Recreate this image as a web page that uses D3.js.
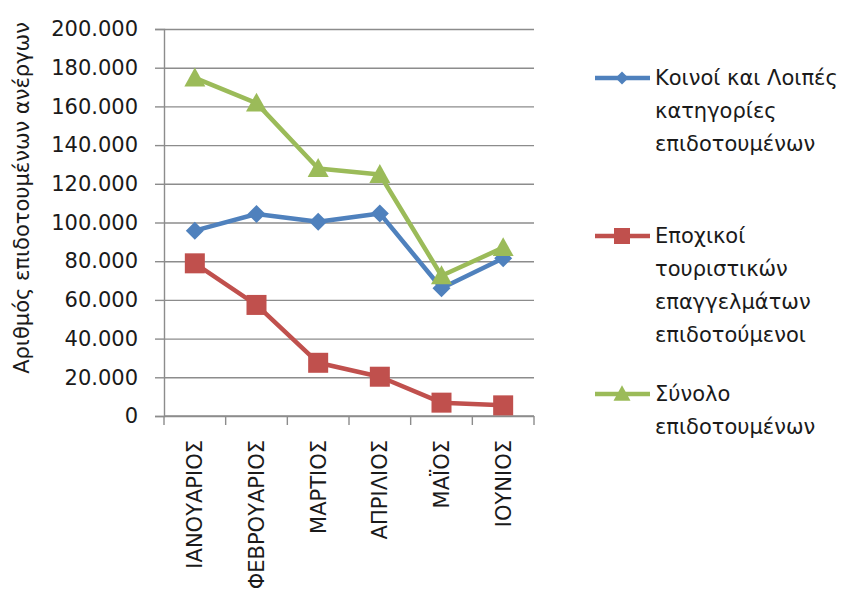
<!DOCTYPE html>
<html>
<head>
<meta charset="utf-8">
<script src="https://cdn.jsdelivr.net/npm/d3@7"></script>
<style>
  html, body { margin: 0; padding: 0; background: #fff; }
  svg { display: block; }
  text { font-family: "DejaVu Sans", sans-serif; fill: #1a1a1a; }
</style>
</head>
<body>
<svg id="chart" width="848" height="597"></svg>
<script>
// ---- data ----
const months = ["ΙΑΝΟΥΑΡΙΟΣ", "ΦΕΒΡΟΥΑΡΙΟΣ", "ΜΑΡΤΙΟΣ", "ΑΠΡΙΛΙΟΣ", "ΜΑΪΟΣ", "ΙΟΥΝΙΟΣ"];
const commonValues   = [95800, 104400, 100400, 104700, 66000, 81500];
const seasonalValues = [78900, 57400, 27500, 20300, 6900, 5500];
const totalValues    = [174700, 161700, 127900, 124800, 72500, 87000];
const yTicks = [0, 20000, 40000, 60000, 80000, 100000, 120000, 140000, 160000, 180000, 200000];
const yTitle = "Αριθμός επιδοτουμένων ανέργων";
const commonLabel   = ["Κοινοί και Λοιπές", "κατηγορίες", "επιδοτουμένων"];
const seasonalLabel = ["Εποχικοί", "τουριστικών", "επαγγελμάτων", "επιδοτούμενοι"];
const totalLabel    = ["Σύνολο", "επιδοτουμένων"];

const series = [
  { values: commonValues,   label: commonLabel,   color: "#4F81BD", shape: "diamond",  legendY: 78 },
  { values: seasonalValues, label: seasonalLabel, color: "#C0504D", shape: "square",   legendY: 236 },
  { values: totalValues,    label: totalLabel,    color: "#9BBB59", shape: "triangle", legendY: 394 }
];

// ---- layout ----
const svg = d3.select("#chart");
const plotLeft = 164, plotRight = 534, plotTop = 29, plotBottom = 416;
const x = d3.scaleBand().domain(months).range([plotLeft, plotRight]).padding(0);
const y = d3.scaleLinear().domain([0, 200000]).range([plotBottom, plotTop]);
const locale = d3.formatLocale({ decimal: ",", thousands: ".", grouping: [3], currency: ["€", ""] });
const fmt = locale.format(",d");
const gridColor = "#8c8c8c";
const fontSize = 21;

// gridlines
svg.append("g")
  .attr("transform", `translate(${plotLeft},0)`)
  .call(d3.axisLeft(y).tickValues(yTicks).tickSize(-(plotRight - plotLeft)).tickFormat(""))
  .call(g => g.select(".domain").remove())
  .call(g => g.selectAll("line").attr("stroke", gridColor).attr("stroke-width", 1.4));

// y axis
svg.append("g")
  .attr("transform", `translate(${plotLeft},0)`)
  .call(d3.axisLeft(y).tickValues(yTicks).tickSize(9).tickPadding(17).tickFormat(fmt))
  .call(g => g.select(".domain").attr("stroke", gridColor).attr("stroke-width", 1.4))
  .call(g => g.selectAll("line").attr("stroke", gridColor).attr("stroke-width", 1.4))
  .call(g => g.selectAll("text").attr("font-size", fontSize).attr("font-family", "DejaVu Sans").attr("fill", "#1a1a1a"));

// x axis line + boundary ticks
const boundaries = months.map(m => x(m)).concat([x.range()[1]]);
svg.append("line")
  .attr("x1", plotLeft).attr("x2", plotRight).attr("y1", plotBottom).attr("y2", plotBottom)
  .attr("stroke", gridColor).attr("stroke-width", 1.4);
svg.append("g").selectAll("line").data(boundaries).join("line")
  .attr("x1", d => d).attr("x2", d => d)
  .attr("y1", plotBottom).attr("y2", plotBottom + 9)
  .attr("stroke", gridColor).attr("stroke-width", 1.4);

// month labels
svg.append("g").selectAll("text").data(months).join("text")
  .attr("transform", d => `translate(${x(d) + x.bandwidth() / 2},440) rotate(-90)`)
  .attr("text-anchor", "end")
  .attr("dy", "0.36em")
  .attr("font-size", fontSize)
  .text(d => d);

// y title
svg.append("text")
  .attr("transform", "translate(29,198) rotate(-90)")
  .attr("text-anchor", "middle")
  .attr("font-size", fontSize)
  .text(yTitle);

// markers
function drawMarker(sel, shape, size, color) {
  if (shape === "diamond") {
    sel.append("path").attr("d", `M0,${-size/2}L${size/2},0L0,${size/2}L${-size/2},0Z`).attr("fill", color);
  } else if (shape === "square") {
    sel.append("rect").attr("x", -size/2).attr("y", -size/2).attr("width", size).attr("height", size).attr("fill", color);
  } else {
    const h = size * 0.9;
    sel.append("path").attr("d", `M0,${-h/2 - 1}L${size/2},${h/2 - 1}L${-size/2},${h/2 - 1}Z`).attr("fill", color);
  }
}
const markerSize = { diamond: 18, square: 20, triangle: 21 };
const legendMarkerSize = { diamond: 13, square: 16, triangle: 17 };

const line = d3.line()
  .x((d, i) => x(months[i]) + x.bandwidth() / 2)
  .y(d => y(d));

series.forEach(s => {
  svg.append("path")
    .datum(s.values)
    .attr("d", line)
    .attr("fill", "none")
    .attr("stroke", s.color)
    .attr("stroke-width", 4.5)
    .attr("stroke-linejoin", "round");
});
series.forEach(s => {
  svg.append("g").selectAll("g").data(s.values).join("g")
    .attr("transform", (d, i) => `translate(${x(months[i]) + x.bandwidth() / 2},${y(d)})`)
    .each(function () { drawMarker(d3.select(this), s.shape, markerSize[s.shape], s.color); });
});

// legend
series.forEach(s => {
  const g = svg.append("g").attr("transform", `translate(0,${s.legendY})`);
  g.append("line").attr("x1", 595).attr("x2", 650).attr("y1", 0).attr("y2", 0)
    .attr("stroke", s.color).attr("stroke-width", 4.5);
  const mg = g.append("g").attr("transform", "translate(622,0)");
  drawMarker(mg, s.shape, legendMarkerSize[s.shape], s.color);
  g.selectAll("text").data(s.label).join("text")
    .attr("x", 655)
    .attr("y", (d, i) => 7 + i * 33)
    .attr("font-size", fontSize)
    .text(d => d);
});
</script>
</body>
</html>
